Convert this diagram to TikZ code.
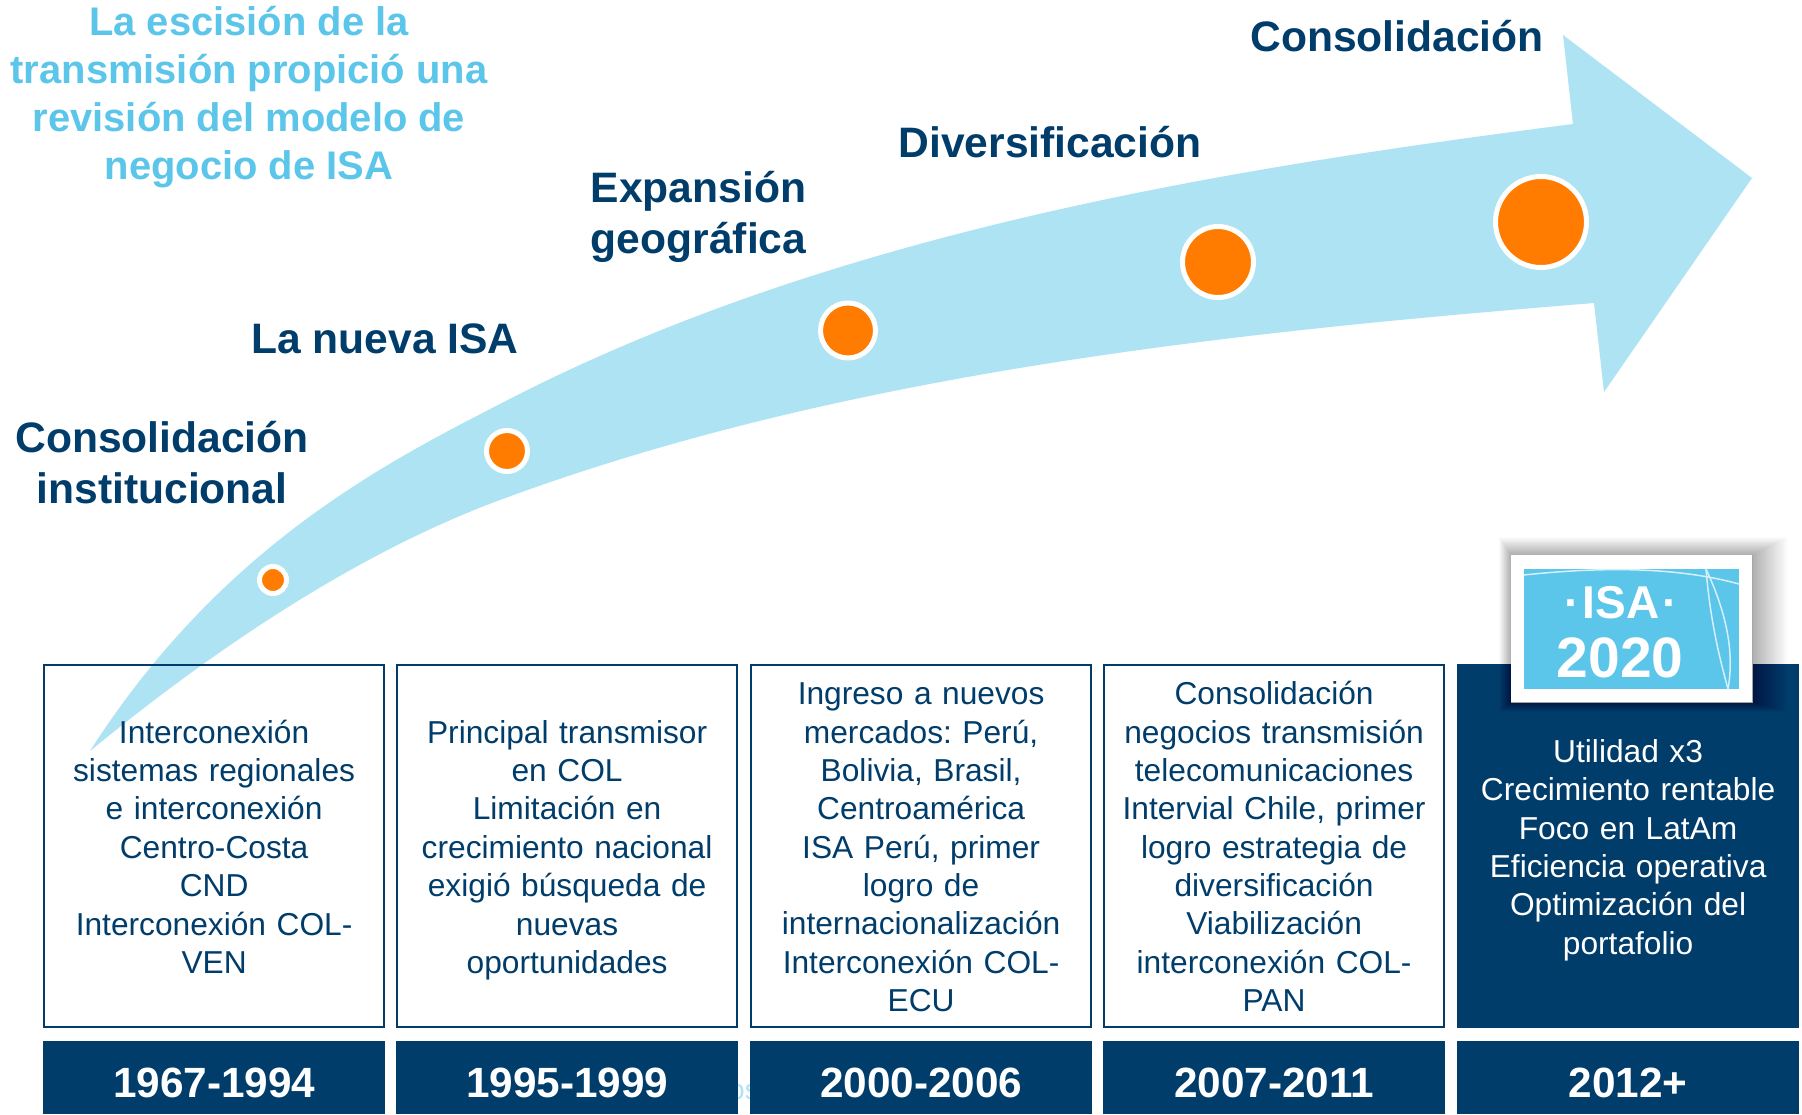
\documentclass[tikz,border=0pt]{standalone}
\usepackage{fontspec}
\setmainfont{Liberation Sans}
\definecolor{isanavy}{HTML}{003D6B}
\definecolor{arrowblue}{HTML}{AEE3F3}
\definecolor{isasky}{HTML}{5BC5EA}
\definecolor{dotorange}{HTML}{FF7C00}
\tikzset{
  x=1pt,y=-1pt,
  periodbox/.style={draw=isanavy,line width=2.2pt,align=center,text=isanavy,font=\frenchspacing\fontsize{31.7}{38.4}\selectfont,inner sep=0pt,minimum width=340pt,text width=340pt,minimum height=362pt,anchor=north west,execute at begin node=\rule{0pt}{35.7pt},execute at end node=\strut},
  filledbox/.style={periodbox,fill=isanavy,text=white},
  yearbox/.style={fill=isanavy,text=white,font=\fontsize{42.3}{48}\bfseries\selectfont,inner sep=0pt,minimum width=342pt,minimum height=73pt,anchor=north west,text height=40pt,text depth=0pt},
  stage/.style={text=isanavy,font=\fontsize{42.6}{51}\bfseries\selectfont,align=center,inner sep=0pt},
  lead/.style={text=isasky,font=\fontsize{39.9}{48.2}\bfseries\selectfont,align=center,inner sep=0pt},
  milestone/.style={circle,draw=white,fill=dotorange,line width=5pt,inner sep=0pt},
}
\begin{document}
\begin{tikzpicture}
\useasboundingbox (0,0) rectangle (1802,1114);
\fill[white] (0,0) rectangle (1802,1114);
% arrow
\fill[arrowblue] (90,751) .. controls (220,548) and (383,464) .. (500,404)
  .. controls (830,232) and (1223,169) .. (1573,124)
  -- (1563,35) -- (1752,178) -- (1604,392) -- (1594,303)
  .. controls (1250,331) and (850,370) .. (500,500)
  .. controls (370,548) and (230,636) .. cycle;
% milestones
\node[milestone,minimum size=27pt] (m1) at (273,580) {};
\node[milestone,minimum size=41pt] (m2) at (507,451) {};
\node[milestone,minimum size=55pt] (m3) at (848,330.5) {};
\node[milestone,minimum size=71pt] (m4) at (1218,262) {};
\node[milestone,minimum size=91pt] (m5) at (1541,222) {};
% stage titles
\node[stage] (s5) at (1397,36) {Consolidación};
\node[stage] (s4) at (1050,142) {Diversificación};
\node[stage] (s3) at (698.5,217) {Expansión\\geográfica};
\node[stage] (s2) at (385,339) {La nueva ISA};
\node[stage] (s1) at (162,463) {Consolidación\\institucional};
\node[lead] (lead) at (249,97) {La escisión de la\\transmisión propició una\\revisión del modelo de\\negocio de ISA};
% ghost fragment
\node[text=arrowblue,font=\fontsize{28}{30}\selectfont,inner sep=0pt] (ghost) at (744,1092) {os};
% period boxes
\node[periodbox] (b1) at (43,664) {Interconexión\\sistemas regionales\\e interconexión\\Centro-Costa\\CND\\Interconexión COL-\\VEN};
\node[periodbox] (b2) at (396,664) {Principal transmisor\\en COL\\Limitación en\\crecimiento nacional\\exigió búsqueda de\\nuevas\\oportunidades};
\node[periodbox] (b3) at (750,664) {Ingreso a nuevos\\mercados: Perú,\\Bolivia, Brasil,\\Centroamérica\\ISA Perú, primer\\logro de\\internacionalización\\Interconexión COL-\\ECU};
\node[periodbox] (b4) at (1103,664) {Consolidación\\negocios transmisión\\telecomunicaciones\\Intervial Chile, primer\\logro estrategia de\\diversificación\\Viabilización\\interconexión COL-\\PAN};
\node[filledbox] (b5) at (1457,664) {Utilidad x3\\Crecimiento rentable\\Foco en LatAm\\Eficiencia operativa\\Optimización del\\portafolio};
% years
\node[yearbox] (y1) at (43,1041) {1967-1994};
\node[yearbox] (y2) at (396,1041) {1995-1999};
\node[yearbox] (y3) at (750,1041) {2000-2006};
\node[yearbox] (y4) at (1103,1041) {2007-2011};
\node[yearbox] (y5) at (1457,1041) {2012+};
% badge with soft shadow
\foreach \d in {40,39,...,1}
  \fill[black,opacity=.009] ({1511-\d*.3},{555-\d*.45}) rectangle ({1752+\d*.9},{702+\d*.25});
\fill[white] (1511,555) rectangle (1752,702);
\draw[black!35,line width=1pt] (1511,702) -- (1752,702) -- (1752,555);
\fill[isasky] (1524,569) rectangle (1739,689);
\begin{scope}
\clip (1524,569) rectangle (1739,689);
\draw[white!75!isasky,line width=1.5pt] (1524,575) .. controls (1590,568) and (1670,565) .. (1739,584);
\draw[white!75!isasky,line width=1.5pt] (1706,569) .. controls (1710,620) and (1720,660) .. (1728,689);
\draw[white!75!isasky,line width=1.5pt] (1706,569) .. controls (1725,610) and (1735,650) .. (1728,689);
\end{scope}
\node[text=white,font=\fontsize{46}{50}\bfseries\selectfont,inner sep=0pt] (isa) at (1621,603) {·\kern3pt ISA\kern3pt ·};
\node[text=white,font=\fontsize{57}{60}\bfseries\selectfont,inner sep=0pt] (y2020) at (1620,658) {2020};
\end{tikzpicture}
\end{document}
